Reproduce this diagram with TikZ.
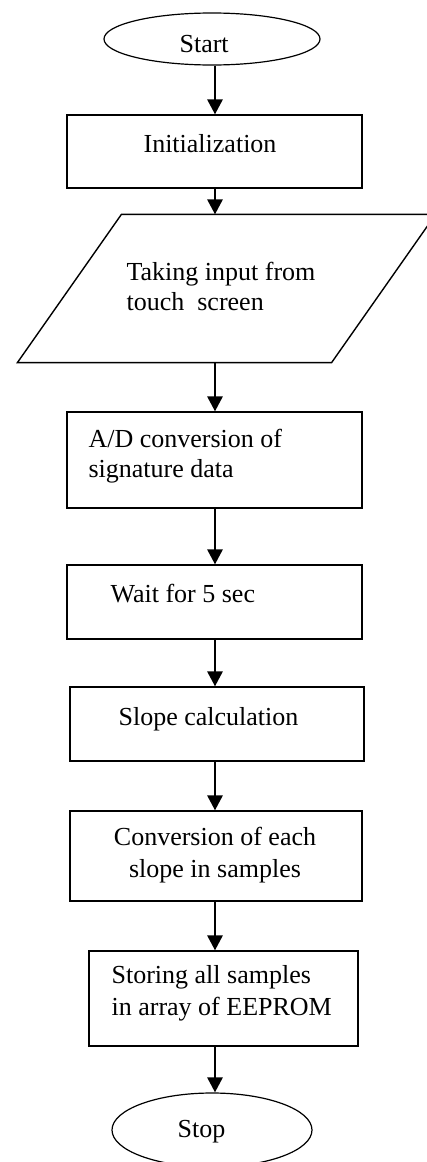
\documentclass[tikz,border=0pt]{standalone}
\usepackage{fontspec}
\setmainfont{Liberation Serif}
\usetikzlibrary{arrows.meta, shapes.geometric}

\begin{document}
\begin{tikzpicture}[x=1pt, y=-1pt, line width=1.2pt,
  box/.style={draw, rectangle, inner sep=0pt},
  term/.style={draw, ellipse, inner sep=0pt},
  txt/.style={inner sep=0pt, anchor=base west, align=left, font=\fontsize{26}{30}\selectfont},
  flow/.style={line width=2.8pt, -{Triangle[length=15pt, width=15pt]}}]
\useasboundingbox (0,0) rectangle (427,1162);
\coordinate (axis) at (215,0);
\node[term, minimum width=216pt, minimum height=52pt] (start) at (212,39) {};
\node[box, minimum width=295pt, minimum height=73pt] (init) at (214.5,151.5) {};
\node[inner sep=0pt, minimum width=313pt, minimum height=147pt] (input) at (226.5,288.5) {};
\draw[line width=1.4pt] ([xshift=52pt]input.north west) -- ([xshift=52pt]input.north east)
  -- ([xshift=-52pt]input.south east) -- ([xshift=-52pt]input.south west) -- cycle;
\node[box, minimum width=295pt, minimum height=96pt] (ad) at (214.5,460) {};
\node[box, minimum width=295pt, minimum height=74pt] (wait) at (214.5,602) {};
\node[box, minimum width=294pt, minimum height=74pt] (slope) at (217,724) {};
\node[box, minimum width=292pt, minimum height=90pt] (conv) at (216,856) {};
\node[box, minimum width=269pt, minimum height=95pt] (store) at (223.5,998.5) {};
\node[term, minimum width=200pt, minimum height=74pt] (stop) at (212,1130) {};
% texts
\node[txt] (tstart) at (179,52) {Start};
\node[txt] (tinit) at (143,152) {Initialization};
\node[txt] (tinput) at (126,310) {Taking input from\\touch~ screen};
\node[txt] (tad) at (88,477) {A/D conversion of\\signature data};
\node[txt] (twait) at (110,602) {Wait for 5 sec};
\node[txt] (tslope) at (118,725) {Slope calculation};
\node[txt, align=center, anchor=base] (tconv) at (215,877) {Conversion of each\\[2pt]slope in samples};
\node[txt] (tstore) at (111,1015) {Storing all samples\\[2pt]in array of EEPROM};
\node[txt] (tstop) at (177,1137) {Stop};
\foreach \a/\b in {start/init, init/input, input/ad, ad/wait, wait/slope, slope/conv, conv/store, store/stop}
  \draw[flow] (\a.south -| axis) -- (\b.north -| axis);
\end{tikzpicture}
\end{document}
